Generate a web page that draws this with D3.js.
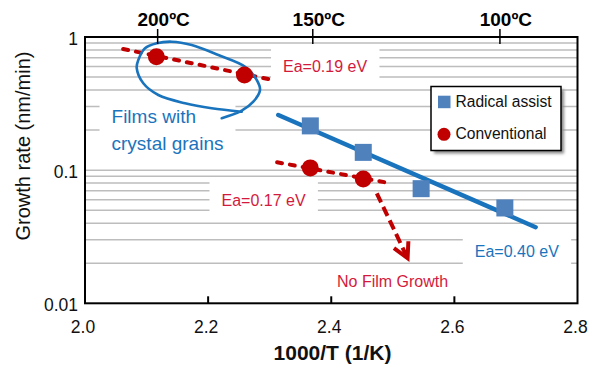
<!DOCTYPE html>
<html>
<head>
<meta charset="utf-8">
<script src="https://cdn.jsdelivr.net/npm/d3@7"></script>
<style>
  body { margin: 0; background: #fff; }
  svg { display: block; font-family: "Liberation Sans", Arial, Helvetica, sans-serif; }
</style>
</head>
<body>
<svg id="chart" width="590" height="367"></svg>
<script>
// Arrhenius plot: x = 1000/T (1/K), growth rate in nm/min
const radicalX = [2.366, 2.452, 2.546, 2.682];
const radicalRate = [0.215, 0.136, 0.0726, 0.052];
const conventionalX = [2.116, 2.259, 2.366, 2.452];
const conventionalRate = [0.71, 0.518, 0.104, 0.0858];

const xTicks = [2.0, 2.2, 2.4, 2.6, 2.8];
const xTickLabels = ["2.0", "2.2", "2.4", "2.6", "2.8"];
const yTicks = [0.01, 0.1, 1];
const yTickLabels = ["0.01", "0.1", "1"];
const tempTicks = [2.118, 2.370, 2.674];
const tempLabels = ["200", "150", "100"];

// Arrhenius fits: activation energy (eV), 1000/T span and rate at the span start
const fitEa = [0.19, 0.17, 0.40];
const fitX0 = [2.062, 2.312, 2.314];
const fitX1 = [2.309, 2.496, 2.732];
const fitRate0 = [0.8125, 0.1146, 0.2595];
const fitLabels = ["Ea=0.19 eV", "Ea=0.17 eV", "Ea=0.40 eV"];
const fitLabelX = [2.390, 2.290, 2.7014];
const fitLabelRate = [0.549, 0.0538, 0.02215];

// hand-drawn loop around the high-temperature conventional points
const loopX = [2.2546, 2.2058, 2.1625, 2.1191, 2.0947, 2.0840, 2.0866, 2.0975, 2.1165,
               2.1409, 2.1734, 2.2166, 2.2600, 2.2790, 2.2843, 2.2734, 2.2546, 2.2221];
const loopRate = [0.2748, 0.2914, 0.3177, 0.3667, 0.4491, 0.585, 0.672, 0.8223, 0.8968,
                  0.922, 0.8708, 0.7325, 0.5982, 0.4754, 0.3999, 0.3266, 0.2796, 0.2452];
const loopLabel = ["Films with", "crystal grains"];
const loopLabelX = 2.0431;
const loopLabelRate = 0.2248;

// "no film growth" arrow below 135 ºC
const arrowX = [2.474, 2.524];
const arrowRate = [0.067, 0.0218];
const arrowLabel = "No Film Growth";
const arrowLabelX = 2.4996;
const arrowLabelRate = 0.01332;

const seriesNames = ["Radical assist", "Conventional"];

const RED = "#c00000", RED_TEXT = "#d41a3c", BLUE = "#1a74bd", SQUARE = "#4f81bd";

const svg = d3.select("#chart");
const plotLeft = 85, plotRight = 577.5, plotTop = 37, plotBottom = 303.3;

const x = d3.scaleLinear().domain([2.0, 2.8]).range([plotLeft, plotRight]);
const y = d3.scaleLog().domain([0.01, 1]).range([plotBottom, plotTop]);

const defs = svg.append("defs");
defs.append("filter").attr("id", "shadow").attr("x", "-20%").attr("y", "-20%")
  .attr("width", "140%").attr("height", "140%")
  .append("feGaussianBlur").attr("stdDeviation", 1.6);

// gridlines at every log tick inside the frame
const gridVals = y.ticks().filter(v => v > 0.0101 && v < 0.99);
svg.append("g").selectAll("line").data(gridVals).join("line")
  .attr("x1", plotLeft).attr("x2", plotRight)
  .attr("y1", d => y(d)).attr("y2", d => y(d))
  .attr("stroke", "#bdbdbd").attr("stroke-width", 1.5);

const boxLayer = svg.append("g");
const markLayer = svg.append("g");
const textLayer = svg.append("g");

// frame
svg.append("rect").attr("x", plotLeft).attr("y", plotTop)
  .attr("width", plotRight - plotLeft).attr("height", plotBottom - plotTop)
  .attr("fill", "none").attr("stroke", "#000").attr("stroke-width", 2);

// bottom axis: inward ticks
svg.append("g").selectAll("line").data(xTicks.slice(1, -1)).join("line")
  .attr("x1", d => x(d)).attr("x2", d => x(d))
  .attr("y1", plotBottom).attr("y2", plotBottom - 7)
  .attr("stroke", "#000").attr("stroke-width", 2);
svg.append("g").selectAll("text").data(xTicks).join("text")
  .attr("x", d => x(d) - 2).attr("y", 332.7)
  .attr("text-anchor", "middle").attr("font-size", 17.5).attr("fill", "#111")
  .text((d, i) => xTickLabels[i]);

// left axis labels
svg.append("g").selectAll("text").data(yTicks).join("text")
  .attr("x", 78).attr("y", d => y(d) + 8)
  .attr("text-anchor", "end").attr("font-size", 17.5).attr("fill", "#111")
  .text((d, i) => yTickLabels[i]);

// top axis: temperature ticks
svg.append("g").selectAll("line").data(tempTicks).join("line")
  .attr("x1", d => x(d)).attr("x2", d => x(d))
  .attr("y1", plotTop - 8).attr("y2", plotTop + 7)
  .attr("stroke", "#000").attr("stroke-width", 1.5);
svg.append("g").selectAll("text").data(tempTicks).join("text")
  .attr("x", d => x(d) + 6).attr("y", 26)
  .attr("text-anchor", "middle").attr("font-size", 19).attr("font-weight", "bold")
  .attr("fill", "#000")
  .text((d, i) => tempLabels[i] + "ºC");

// axis titles
svg.append("text").attr("transform", "translate(29.5,146) rotate(-90)")
  .attr("text-anchor", "middle").attr("font-size", 20).attr("fill", "#111")
  .text("Growth rate (nm/min)");
svg.append("text").attr("x", 332.5).attr("y", 360)
  .attr("text-anchor", "middle").attr("font-size", 21).attr("font-weight", "bold")
  .attr("fill", "#111").text("1000/T (1/K)");

// labels with white backing boxes that hide the gridlines behind them
function boxedLabel(lines, px, py, anchor, size, color, lineGap) {
  const t = textLayer.append("text")
    .attr("x", px).attr("y", py).attr("text-anchor", anchor)
    .attr("font-size", size).attr("fill", color);
  lines.forEach((s, i) => t.append("tspan").attr("x", px)
    .attr("dy", i === 0 ? 0 : lineGap).text(s));
  const b = t.node().getBBox();
  boxLayer.append("rect")
    .attr("x", b.x - 12).attr("y", b.y - 10.5)
    .attr("width", b.width + 24).attr("height", b.height + 21)
    .attr("fill", "#fff");
  return t;
}

fitLabels.forEach((s, i) => {
  boxedLabel([s], x(fitLabelX[i]), y(fitLabelRate[i]), "middle", 16,
    i === 2 ? BLUE : RED_TEXT, 0);
});
boxedLabel(loopLabel, x(loopLabelX), y(loopLabelRate), "start", 19, BLUE, 26.7);
textLayer.append("text").attr("x", x(arrowLabelX)).attr("y", y(arrowLabelRate))
  .attr("text-anchor", "middle").attr("font-size", 16).attr("fill", RED_TEXT)
  .text(arrowLabel);

// Arrhenius fit lines: log10(rate) falls by Ea/(kB*1000*ln10) per unit of 1000/T
const kB = 8.617e-5;
fitEa.forEach((ea, i) => {
  const slope = ea / (kB * 1000 * Math.LN10);
  const pts = [fitX0[i], fitX1[i]].map(xv =>
    [xv, fitRate0[i] * Math.pow(10, -slope * (xv - fitX0[i]))]);
  const line = d3.line().x(d => x(d[0])).y(d => y(d[1]));
  const blue = i === 2;
  markLayer.append("path").attr("d", line(pts))
    .attr("fill", "none")
    .attr("stroke", blue ? BLUE : RED)
    .attr("stroke-width", blue ? 4.5 : 4)
    .attr("stroke-linecap", "round")
    .attr("stroke-dasharray", blue ? null : "5,8");
});

// loop annotation
const loopPts = loopX.map((v, i) => [v, loopRate[i]]);
markLayer.append("path")
  .attr("d", d3.line().x(d => x(d[0])).y(d => y(d[1])).curve(d3.curveCatmullRom)(loopPts))
  .attr("fill", "none").attr("stroke", BLUE).attr("stroke-width", 2.6)
  .attr("stroke-linecap", "round");

// dashed arrow
const a0 = [x(arrowX[0]), y(arrowRate[0])], a1 = [x(arrowX[1]), y(arrowRate[1])];
markLayer.append("line")
  .attr("x1", a0[0]).attr("y1", a0[1]).attr("x2", a1[0]).attr("y2", a1[1])
  .attr("stroke", RED).attr("stroke-width", 4).attr("stroke-dasharray", "10,5");
const ang = Math.atan2(a0[1] - a1[1], a0[0] - a1[0]);
const headLen = 17, spread = 28 * Math.PI / 180;
const head = [
  [a1[0] + headLen * Math.cos(ang + spread), a1[1] + headLen * Math.sin(ang + spread)],
  a1,
  [a1[0] + headLen * Math.cos(ang - spread), a1[1] + headLen * Math.sin(ang - spread)]
];
markLayer.append("path").attr("d", d3.line()(head))
  .attr("fill", "none").attr("stroke", RED).attr("stroke-width", 4)
  .attr("stroke-linejoin", "miter");

// data markers
markLayer.append("g").selectAll("rect").data(radicalX).join("rect")
  .attr("x", d => x(d) - 8.5).attr("y", (d, i) => y(radicalRate[i]) - 8.5)
  .attr("width", 17).attr("height", 17).attr("fill", SQUARE);
markLayer.append("g").selectAll("circle").data(conventionalX).join("circle")
  .attr("cx", d => x(d)).attr("cy", (d, i) => y(conventionalRate[i]))
  .attr("r", 8.5).attr("fill", RED);

// legend
const lg = svg.append("g").attr("transform", "translate(431,86.5)");
lg.append("rect").attr("x", 3).attr("y", 3).attr("width", 130).attr("height", 64)
  .attr("fill", "#888").attr("filter", "url(#shadow)");
lg.append("rect").attr("width", 130).attr("height", 64)
  .attr("fill", "#fff").attr("stroke", "#000").attr("stroke-width", 1.5);
lg.append("rect").attr("x", 7).attr("y", 9.2).attr("width", 12.5).attr("height", 12.5)
  .attr("fill", SQUARE);
lg.append("circle").attr("cx", 13).attr("cy", 47.8).attr("r", 6.5).attr("fill", RED);
lg.selectAll("text.lab").data(seriesNames).join("text")
  .attr("x", 24.5).attr("y", (d, i) => i === 0 ? 20.2 : 52.8)
  .attr("font-size", 15.6).attr("fill", "#111").text(d => d);
</script>
</body>
</html>
